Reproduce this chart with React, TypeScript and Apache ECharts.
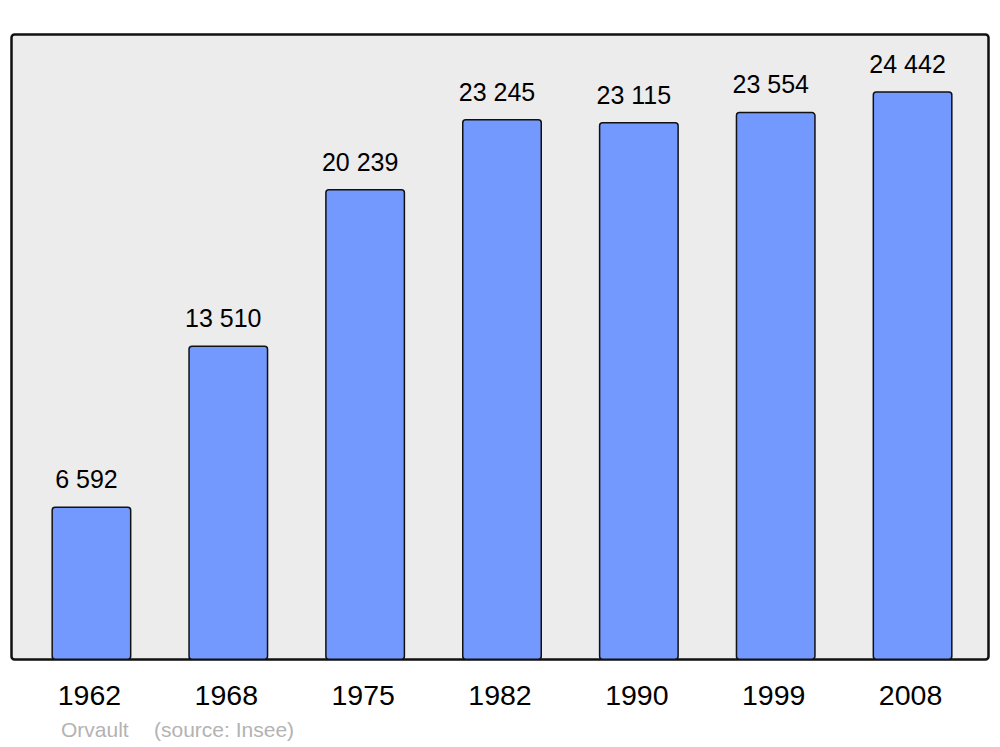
import React, { useEffect, useRef } from "react";
import * as echarts from "echarts";

const years = ["1962", "1968", "1975", "1982", "1990", "1999", "2008"];
const population = [6592, 13510, 20239, 23245, 23115, 23554, 24442];
const footerName = "Orvault";
const footerSource = "(source: Insee)";

const fmt = (v: number) => {
  const s = String(Math.round(v));
  return s.replace(/\B(?=(\d{3})+(?!\d))/g, " ");
};

export default function App() {
  const ref = useRef<HTMLDivElement>(null);
  useEffect(() => {
    const chart = echarts.init(ref.current!, null, { renderer: "svg" });
    const font = "'Liberation Sans', Arial, sans-serif";
    chart.setOption({
      animation: false,
      backgroundColor: "#ffffff",
      textStyle: { fontFamily: font },
      graphic: [
        {
          type: "rect",
          z: -10,
          shape: { x: 11.5, y: 34.5, width: 977, height: 625, r: 3 },
          style: { fill: "#ececec", stroke: "#111111", lineWidth: 2.5 },
          silent: true,
        },
        {
          type: "text",
          x: 61,
          y: 719,
          style: {
            text: footerName,
            fill: "#b3b3b3",
            font: `21px ${font}`,
          },
        },
        {
          type: "text",
          x: 154,
          y: 719,
          style: {
            text: footerSource,
            fill: "#b3b3b3",
            font: `21px ${font}`,
          },
        },
      ],
      grid: { left: 23, right: 19, top: 34, bottom: 87 },
      xAxis: {
        type: "category",
        data: years,
        axisLine: { show: false },
        axisTick: { show: false },
        axisLabel: {
          color: "#000",
          fontSize: 28.5,
          margin: 20,
          fontFamily: font,
          padding: [0, 4, 0, 0],
        },
      },
      yAxis: {
        type: "value",
        min: 0,
        max: 26900,
        show: false,
        splitLine: { show: false },
      },
      series: [
        {
          type: "bar",
          data: population,
          barWidth: 80,
          itemStyle: {
            color: "#7399ff",
            borderColor: "#111111",
            borderWidth: 1.5,
            borderRadius: 3,
          },
          label: {
            show: true,
            position: "top",
            distance: 15,
            offset: [-5, 0],
            color: "#000",
            fontSize: 25,
            fontFamily: font,
            formatter: (p: any) => fmt(p.value),
          },
        },
      ],
    });
    return () => chart.dispose();
  }, []);
  return <div ref={ref} style={{ width: 1000, height: 747, position: "absolute", left: 0, top: 0 }} />;
}
